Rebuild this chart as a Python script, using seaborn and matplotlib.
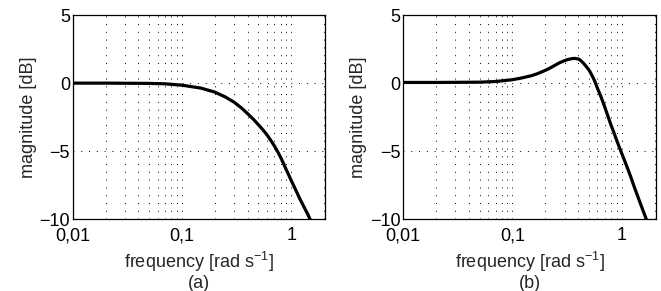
import numpy as np
import pandas as pd
import matplotlib
matplotlib.use('Agg')
import matplotlib.pyplot as plt
import seaborn as sns

# values
freq_a = [0.01, 0.02, 0.05, 0.07, 0.1, 0.15, 0.2, 0.25, 0.3, 0.35, 0.4, 0.45,
          0.5, 0.55, 0.6, 0.65, 0.7, 0.75, 0.8, 0.85, 0.9, 0.95, 1.0, 1.1,
          1.2, 1.3, 1.4, 1.49]
mag_a = [0.0, 0.0, -0.02, -0.05, -0.15, -0.37, -0.66, -1.02, -1.4, -1.82,
         -2.25, -2.65, -3.05, -3.42, -3.8, -4.2, -4.6, -5.02, -5.45, -5.9,
         -6.35, -6.75, -7.15, -7.85, -8.5, -9.05, -9.55, -10.0]

freq_b = [0.01, 0.02, 0.05, 0.07, 0.1, 0.12, 0.15, 0.17, 0.2, 0.22, 0.25,
          0.27, 0.3, 0.32, 0.35, 0.37, 0.4, 0.42, 0.45, 0.47, 0.5, 0.52,
          0.55, 0.57, 0.6, 0.65, 0.7, 0.75, 0.8, 0.85, 0.9, 0.95, 1.0, 1.1,
          1.2, 1.3, 1.4, 1.5, 1.68]
mag_b = [0.05, 0.05, 0.07, 0.12, 0.25, 0.37, 0.55, 0.7, 0.94, 1.1, 1.35,
         1.5, 1.65, 1.73, 1.8, 1.82, 1.78, 1.68, 1.44, 1.25, 0.99, 0.75,
         0.37, 0.1, -0.37, -1.05, -1.75, -2.45, -3.1, -3.65, -4.2, -4.7,
         -5.15, -6.0, -6.8, -7.6, -8.3, -8.95, -10.0]

xtick_vals = [0.01, 0.1, 1]
xtick_labels = ['0,01', '0,1', '1']
ytick_vals = [-10, -5, 0, 5]
ytick_labels = ['\u221210', '\u22125', '0', '5']
panel_tags = ['(a)', '(b)']

sns.set_style('white')
plt.rcParams['font.family'] = ['Liberation Sans', 'DejaVu Sans']
plt.rcParams['mathtext.fontset'] = 'custom'
plt.rcParams['mathtext.rm'] = 'Liberation Sans'
plt.rcParams['mathtext.it'] = 'Liberation Sans'

fig = plt.figure(figsize=(6.61, 2.91), dpi=100)
ax_a = fig.add_axes([0.110, 0.247, 0.382, 0.701])
ax_b = fig.add_axes([0.610, 0.247, 0.382, 0.701])

dots = (0, (1, 7))
for ax, fx, my, tag in [(ax_a, freq_a, mag_a, panel_tags[0]),
                        (ax_b, freq_b, mag_b, panel_tags[1])]:
    df = pd.DataFrame({'f': fx, 'm': my})
    sns.lineplot(data=df, x='f', y='m', ax=ax, color='black', lw=2.3,
                 sort=False, estimator=None)
    ax.lines[-1].set_solid_joinstyle('round')
    ax.set_xscale('log')
    ax.set_xlim(0.01, 2.05)
    ax.set_ylim(-10, 5)
    ax.set_xticks(xtick_vals)
    ax.set_xticklabels(xtick_labels)
    ax.set_yticks(ytick_vals)
    ax.set_yticklabels(ytick_labels)
    ax.grid(True, which='major', axis='both', color='black', ls=dots, lw=0.7)
    ax.grid(True, which='minor', axis='x', color='black', ls=dots, lw=0.7)
    ax.tick_params(axis='both', which='both', direction='in', labelsize=13,
                   colors='black')
    ax.tick_params(axis='x', pad=6)
    ax.tick_params(axis='y', pad=2)
    ax.tick_params(which='major', length=2, width=0.6)
    ax.tick_params(which='minor', length=0)
    for sp in ax.spines.values():
        sp.set_color('black')
        sp.set_linewidth(0.9)
    ax.set_xlabel('frequency [rad s$^{-1}$]\n' + tag, fontsize=13,
                  labelpad=4, linespacing=1.05)
    ax.set_ylabel('magnitude [dB]', fontsize=13, labelpad=2)

fig.savefig('out.png', dpi=100)
